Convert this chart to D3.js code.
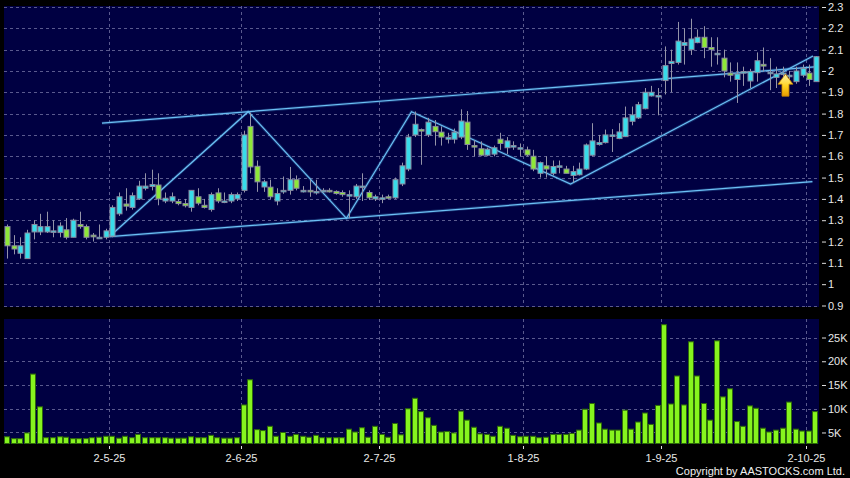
<!DOCTYPE html>
<html lang="en">
<head>
  <meta charset="UTF-8">
  <title>Candlestick Chart</title>
  <script src="https://d3js.org/d3.v7.min.js"></script>
  <style>
    body { margin: 0; background: #000; }
    text { font-family: "Liberation Sans", Arial, sans-serif; }
  </style>
</head>
<body>
  <svg id="chart" width="850" height="478"></svg>

  <script>
    // daily OHLC, one entry per trading day (124 days)
    const open = [1.27,1.18,1.145,1.12,1.245,1.245,1.245,1.25,1.242,1.255,1.22,1.28,1.27,1.23,1.22,1.22,1.225,1.33,1.376,1.36,
      1.40,1.45,1.458,1.465,1.39,1.39,1.388,1.378,1.36,1.41,1.37,1.35,1.428,1.39,1.39,1.40,1.44,1.74,1.553,1.456,
      1.455,1.39,1.435,1.44,1.49,1.44,1.44,1.435,1.435,1.44,1.435,1.43,1.415,1.41,1.455,1.43,1.40,1.405,1.41,1.405,
      1.47,1.54,1.70,1.725,1.70,1.74,1.713,1.68,1.68,1.69,1.76,1.65,1.635,1.605,1.61,1.68,1.64,1.645,1.633,1.63,
      1.60,1.52,1.555,1.52,1.552,1.54,1.51,1.513,1.54,1.605,1.655,1.664,1.70,1.683,1.692,1.764,1.78,1.823,1.883,1.883,
      1.955,2.035,2.04,2.12,2.10,2.133,2.158,2.11,2.083,2.06,1.99,1.96,1.997,1.953,1.992,2.031,1.994,1.97,1.99,1.975,
      1.95,1.98,1.99,1.95];
    const high = [1.28,1.23,1.22,1.255,1.30,1.33,1.34,1.30,1.29,1.31,1.307,1.34,1.28,1.24,1.28,1.26,1.37,1.43,1.45,1.43,
      1.485,1.52,1.537,1.52,1.43,1.43,1.40,1.40,1.44,1.45,1.40,1.43,1.45,1.43,1.43,1.43,1.72,1.805,1.58,1.49,
      1.49,1.45,1.505,1.55,1.51,1.46,1.49,1.49,1.45,1.45,1.44,1.44,1.44,1.47,1.52,1.44,1.42,1.42,1.42,1.50,
      1.57,1.705,1.81,1.73,1.78,1.77,1.74,1.71,1.73,1.82,1.812,1.675,1.67,1.64,1.65,1.71,1.69,1.67,1.66,1.645,
      1.63,1.575,1.60,1.58,1.58,1.555,1.555,1.57,1.66,1.755,1.70,1.725,1.727,1.755,1.833,1.833,1.855,1.92,1.93,1.92,
      2.115,2.10,2.23,2.20,2.245,2.195,2.21,2.158,2.158,2.10,2.04,2.04,2.02,2.01,2.087,2.11,2.06,2.02,2.02,2.0,
      2.02,2.03,2.03,2.07];
    const low = [1.12,1.14,1.12,1.12,1.21,1.23,1.24,1.22,1.22,1.21,1.22,1.26,1.21,1.20,1.22,1.21,1.22,1.32,1.345,1.35,
      1.395,1.44,1.44,1.37,1.38,1.38,1.37,1.36,1.34,1.37,1.355,1.34,1.38,1.38,1.38,1.39,1.43,1.52,1.433,1.433,
      1.40,1.37,1.424,1.42,1.44,1.43,1.41,1.42,1.43,1.43,1.42,1.41,1.31,1.40,1.39,1.395,1.39,1.38,1.40,1.40,
      1.46,1.53,1.69,1.56,1.69,1.65,1.65,1.66,1.66,1.68,1.63,1.60,1.60,1.60,1.60,1.63,1.61,1.63,1.60,1.60,
      1.53,1.50,1.50,1.51,1.52,1.52,1.477,1.51,1.535,1.60,1.65,1.66,1.62,1.68,1.69,1.745,1.775,1.82,1.88,1.792,
      1.89,1.90,2.03,2.03,2.075,2.13,2.06,2.02,2.03,1.97,1.95,1.85,1.93,1.92,1.95,1.997,1.91,1.92,1.95,1.94,
      1.94,1.97,1.93,1.95];
    const close = [1.18,1.165,1.18,1.24,1.28,1.27,1.27,1.25,1.273,1.22,1.30,1.27,1.22,1.222,1.22,1.25,1.36,1.41,1.366,1.415,
      1.46,1.46,1.467,1.40,1.403,1.41,1.378,1.368,1.44,1.38,1.36,1.42,1.39,1.39,1.42,1.42,1.70,1.55,1.48,1.48,
      1.41,1.425,1.44,1.49,1.45,1.44,1.435,1.435,1.44,1.435,1.425,1.42,1.42,1.46,1.46,1.405,1.41,1.405,1.405,1.49,
      1.555,1.69,1.75,1.72,1.76,1.715,1.69,1.689,1.713,1.765,1.655,1.645,1.605,1.633,1.64,1.66,1.672,1.65,1.64,1.606,
      1.54,1.57,1.54,1.552,1.555,1.52,1.528,1.54,1.653,1.672,1.664,1.70,1.70,1.714,1.78,1.794,1.842,1.90,1.90,1.885,
      2.025,2.045,2.14,2.133,2.15,2.158,2.11,2.10,2.083,2.0,1.98,1.986,1.997,1.997,2.048,2.023,1.994,1.986,1.99,1.98,
      2.0,2.0125,1.96,2.067];
    const volume = [4100,3700,3700,4900,17300,10400,3900,3900,4100,4000,3700,3700,3700,3900,4000,4200,4200,3800,4200,3900,
      4600,3900,3900,3900,3900,3800,3800,3800,4100,3900,3900,4400,3900,3800,3800,3900,10800,16100,5600,5400,
      6300,4200,5000,4200,4600,4200,4000,4400,3900,3900,3900,3900,5700,5100,6000,4000,6300,4600,4000,6900,
      4500,10000,12200,9400,8100,6500,5100,5200,4900,9500,7600,6100,4700,4600,4200,6300,5900,4400,4100,4200,
      4200,3900,4000,4600,4600,4600,4800,5500,9900,11100,7000,5700,5500,5500,9700,5700,7200,9100,6700,10700,
      27700,11000,16900,10800,24100,16900,11100,7600,24300,12500,14200,7300,6300,10600,10100,5900,5100,5500,5900,11400,
      5700,5300,5300,9400];

    // x axis: month labels and the trading-day index they sit on
    const dateLabels = ["2-5-25", "2-6-25", "2-7-25", "1-8-25", "1-9-25", "2-10-25"];
    const dateIndex = [16, 36, 57, 79, 100, 122];
    const priceTicks = [0.9, 1, 1.1, 1.2, 1.3, 1.4, 1.5, 1.6, 1.7, 1.8, 1.9, 2, 2.1, 2.2, 2.3];
    const volumeTicks = [5000, 10000, 15000, 20000, 25000];

    // drawn trend lines as [day index, price]
    const channelTop = [[14.4, 1.755], [123.3, 2.02]];
    const channelBottom = [[15.6, 1.223], [122.5, 1.481]];
    const zigzag = [[15.6, 1.225], [36.66, 1.809], [51.6, 1.309], [61.5, 1.809], [85.7, 1.47], [122.6, 2.07]];
    const arrowAt = [118.4, 1.985];

    const svg = d3.select('#chart');
    const left = 4, right = 819;
    const main = { top: 6, bottom: 307 };
    const vol = { top: 319, bottom: 444 };

    const x = d3.scaleBand().domain(d3.range(open.length)).range([left, right]).padding(0);
    const xc = i => x(0) + x.step() * (i + 0.5);   // centre of a (fractional) day
    const y = d3.scaleLinear().domain([0.9, 2.3]).range([305.5, 7]);
    const yv = d3.scaleLinear().domain([2680, 28900]).range([443.5, 319]);

    svg.append('rect').attr('width', 850).attr('height', 478).attr('fill', '#000');

    // panels
    [main, vol].forEach(p => {
      svg.append('rect')
        .attr('x', left).attr('y', p.top)
        .attr('width', right - left).attr('height', p.bottom - p.top)
        .attr('fill', '#000042');
    });

    const gridColor = '#5a5a8e';
    const grid = svg.append('g').attr('stroke', gridColor).attr('stroke-dasharray', '3,3').attr('stroke-width', 1);
    grid.selectAll('.hp').data(priceTicks).join('line')
      .attr('x1', left).attr('x2', right)
      .attr('y1', d => Math.round(y(d)) + 0.5).attr('y2', d => Math.round(y(d)) + 0.5);
    grid.selectAll('.hv').data(volumeTicks).join('line')
      .attr('x1', left).attr('x2', right)
      .attr('y1', d => Math.round(yv(d)) + 0.5).attr('y2', d => Math.round(yv(d)) + 0.5);
    [main, vol].forEach(p => {
      grid.append('g').selectAll('line').data(dateIndex).join('line')
        .attr('x1', d => Math.round(x(d)) + 0.5).attr('x2', d => Math.round(x(d)) + 0.5)
        .attr('y1', p.top).attr('y2', p.bottom);
    });

    // trend lines (under candles)
    const line = d3.line().x(d => xc(d[0])).y(d => y(d[1]));
    const lines = svg.append('g').attr('fill', 'none');
    [channelTop, channelBottom, zigzag].forEach(pts => {
      lines.append('path').attr('d', line(pts))
        .attr('stroke', '#4aa6e8').attr('stroke-width', 3).attr('stroke-opacity', 0.25);
      lines.append('path').attr('d', line(pts))
        .attr('stroke', '#6cc0f4').attr('stroke-width', 1.2);
    });

    // candles
    const days = d3.range(open.length);
    const cx = i => Math.round(xc(i));
    const candles = svg.append('g');
    candles.selectAll('line').data(days).join('line')
      .attr('x1', i => cx(i) + 0.5).attr('x2', i => cx(i) + 0.5)
      .attr('y1', i => y(high[i])).attr('y2', i => y(low[i]))
      .attr('stroke', '#9494a8').attr('stroke-width', 1);
    candles.selectAll('rect').data(days).join('rect')
      .attr('x', i => cx(i) - 2)
      .attr('width', 5)
      .attr('y', i => y(Math.max(open[i], close[i])))
      .attr('height', i => Math.max(1.5, Math.abs(y(open[i]) - y(close[i]))))
      .attr('fill', i => close[i] >= open[i] ? '#38dcea' : '#8ee838')
      .attr('stroke', '#8a8aa0').attr('stroke-width', 1);

    // arrow marker
    const defs = svg.append('defs');
    const grad = defs.append('linearGradient').attr('id', 'arrowFill').attr('x1', 0).attr('y1', 0).attr('x2', 0).attr('y2', 1);
    grad.append('stop').attr('offset', '0%').attr('stop-color', '#fff3a8');
    grad.append('stop').attr('offset', '55%').attr('stop-color', '#ffd21e');
    grad.append('stop').attr('offset', '100%').attr('stop-color', '#e79a00');
    const ax = xc(arrowAt[0]), ay = y(arrowAt[1]);
    svg.append('path')
      .attr('d', `M${ax},${ay} L${ax + 7.5},${ay + 10} L${ax + 3.5},${ay + 10} L${ax + 3.5},${ay + 22}
        L${ax - 3.5},${ay + 22} L${ax - 3.5},${ay + 10} L${ax - 7.5},${ay + 10} Z`)
      .attr('fill', 'url(#arrowFill)').attr('stroke', '#c88400').attr('stroke-width', 0.8);

    // volume bars
    svg.append('g').selectAll('rect').data(days).join('rect')
      .attr('x', i => Math.round(x(i)) + 0.5)
      .attr('width', Math.round(x.bandwidth()) - 2)
      .attr('y', i => yv(volume[i]))
      .attr('height', i => vol.bottom - 0.5 - yv(volume[i]))
      .attr('fill', '#86f41e').attr('stroke', '#2e6a0a').attr('stroke-width', 1);

    // right axes
    const styleAxis = g => {
      g.select('.domain').remove();
      g.selectAll('.tick line').attr('stroke', '#ddd');
      g.selectAll('.tick text').attr('fill', '#e8e8e8').attr('font-size', 11)
        .attr('font-family', '"Liberation Sans", Arial, sans-serif');
    };
    svg.append('g').attr('transform', `translate(${right + 3},0)`)
      .call(d3.axisRight(y).tickValues(priceTicks).tickSize(4).tickPadding(2).tickFormat(d3.format('~g')))
      .call(styleAxis);
    svg.append('g').attr('transform', `translate(${right + 3},0)`)
      .call(d3.axisRight(yv).tickValues(volumeTicks).tickSize(4).tickPadding(2).tickFormat(d => d / 1000 + 'K'))
      .call(styleAxis);

    // bottom date axis
    svg.append('g').attr('transform', `translate(0,${vol.bottom + 2})`)
      .call(d3.axisBottom(x).tickValues(dateIndex).tickSize(3).tickPadding(5)
        .tickFormat((d, i) => dateLabels[i]))
      .call(g => g.selectAll('.tick').attr('transform', d => `translate(${Math.round(x(d)) + 0.5},0)`))
      .call(styleAxis);

    svg.append('text')
      .attr('x', 845).attr('y', 475)
      .attr('text-anchor', 'end')
      .attr('fill', '#f0f0f0')
      .attr('font-size', 11)
      .text('Copyright by AASTOCKS.com Ltd.');
  </script>
</body>
</html>
